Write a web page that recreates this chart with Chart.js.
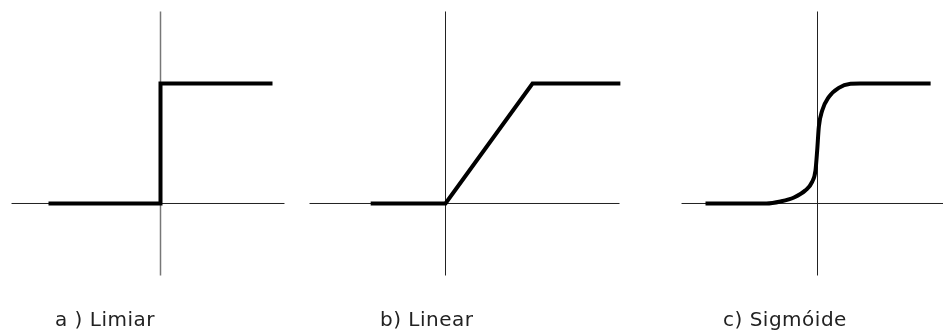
<!DOCTYPE html>
<html>
<head>
<meta charset="utf-8">
<script src="https://cdn.jsdelivr.net/npm/chart.js@4"></script>
<style>
  body { margin: 0; background: #fff; }
  #wrap { position: relative; width: 943px; height: 331px; overflow: hidden; }
  .panel { position: absolute; top: 0; }
  .label { position: absolute; top: 308px; font-family: "DejaVu Sans", sans-serif; font-size: 20px; letter-spacing: 0.5px; line-height: 22px; color: #222; white-space: nowrap; }
</style>
</head>
<body>
<div id="wrap">
  <canvas id="chartA" class="panel" style="left:0px"></canvas>
  <canvas id="chartB" class="panel" style="left:300px"></canvas>
  <canvas id="chartC" class="panel" style="left:630px"></canvas>
  <div id="labelA" class="label" style="left:55px"></div>
  <div id="labelB" class="label" style="left:380px"></div>
  <div id="labelC" class="label" style="left:723px"></div>
</div>
<script>
// panel titles
const titles = ['a ) Limiar', 'b) Linear', 'c) Sigmóide'];

// a) threshold (step, drawn with stepped: 'before')
const stepX = [-1, 0, 1];
const stepY = [0, 1, 1];

// b) linear (ramp with saturation)
const rampX = [-0.86, 0, 1, 2.01];
const rampY = [0, 0, 1, 1];

// c) sigmoid (read off the picture)
const sigX = [-1.0, -0.455, -0.33, -0.21, -0.107, -0.048, -0.018, -0.003, 0.012, 0.042, 0.10, 0.19, 0.295, 0.38, 1.01];
const sigY = [0, 0, 0.017, 0.05, 0.11, 0.18, 0.275, 0.44, 0.64, 0.775, 0.886, 0.964, 0.997, 1, 1];

// axis extents for each panel: [xFrom, xTo, yFrom, yTo]
const axesA = [-1.33, 1.107, -0.6, 1.6];
const axesB = [-1.563, 2.0, -0.6, 1.6];
const axesC = [-1.214, 1.13, -0.6, 1.6];

const toPoints = (xs, ys) => xs.map((x, i) => ({ x: x, y: ys[i] }));

function axisDatasets(ext, vColor, vWidth) {
  return [
    {
      data: [{ x: ext[0], y: 0 }, { x: ext[1], y: 0 }],
      borderColor: '#222', borderWidth: 1, pointRadius: 0, clip: false
    },
    {
      data: [{ x: 0, y: ext[2] }, { x: 0, y: ext[3] }],
      borderColor: vColor, borderWidth: vWidth, pointRadius: 0, clip: false
    }
  ];
}

function makeChart(id, width, xMin, xMax, curve, ext, vColor, vWidth, extra) {
  const canvas = document.getElementById(id);
  canvas.width = width;
  canvas.height = 331;
  canvas.style.width = width + 'px';
  canvas.style.height = '331px';
  const curveSet = Object.assign({
    data: curve,
    borderColor: '#000',
    borderWidth: 4,
    pointRadius: 0,
    borderJoinStyle: 'miter',
    clip: false
  }, extra);
  // the first dataset is painted last, so the curve goes first to sit on top of the axes
  return new Chart(canvas.getContext('2d'), {
    type: 'line',
    data: { datasets: [curveSet].concat(axisDatasets(ext, vColor, vWidth)) },
    options: {
      responsive: false,
      animation: false,
      devicePixelRatio: 1,
      layout: { padding: 0 },
      plugins: { legend: { display: false }, tooltip: { enabled: false } },
      scales: {
        x: { type: 'linear', min: xMin, max: xMax, display: false },
        y: { type: 'linear', min: -1.0625, max: 1.6958, display: false }
      }
    }
  });
}

makeChart('chartA', 300, -160.5 / 112, 139.5 / 112, toPoints(stepX, stepY), axesA, '#777', 1.5, { stepped: 'before' });
makeChart('chartB', 330, -145.5 / 87, 184.5 / 87, toPoints(rampX, rampY), axesB, '#222', 1, {});
makeChart('chartC', 313, -187.5 / 112, 125.5 / 112, toPoints(sigX, sigY), axesC, '#222', 1, { cubicInterpolationMode: 'monotone' });

document.getElementById('labelA').textContent = titles[0];
document.getElementById('labelB').textContent = titles[1];
document.getElementById('labelC').textContent = titles[2];
</script>
</body>
</html>
